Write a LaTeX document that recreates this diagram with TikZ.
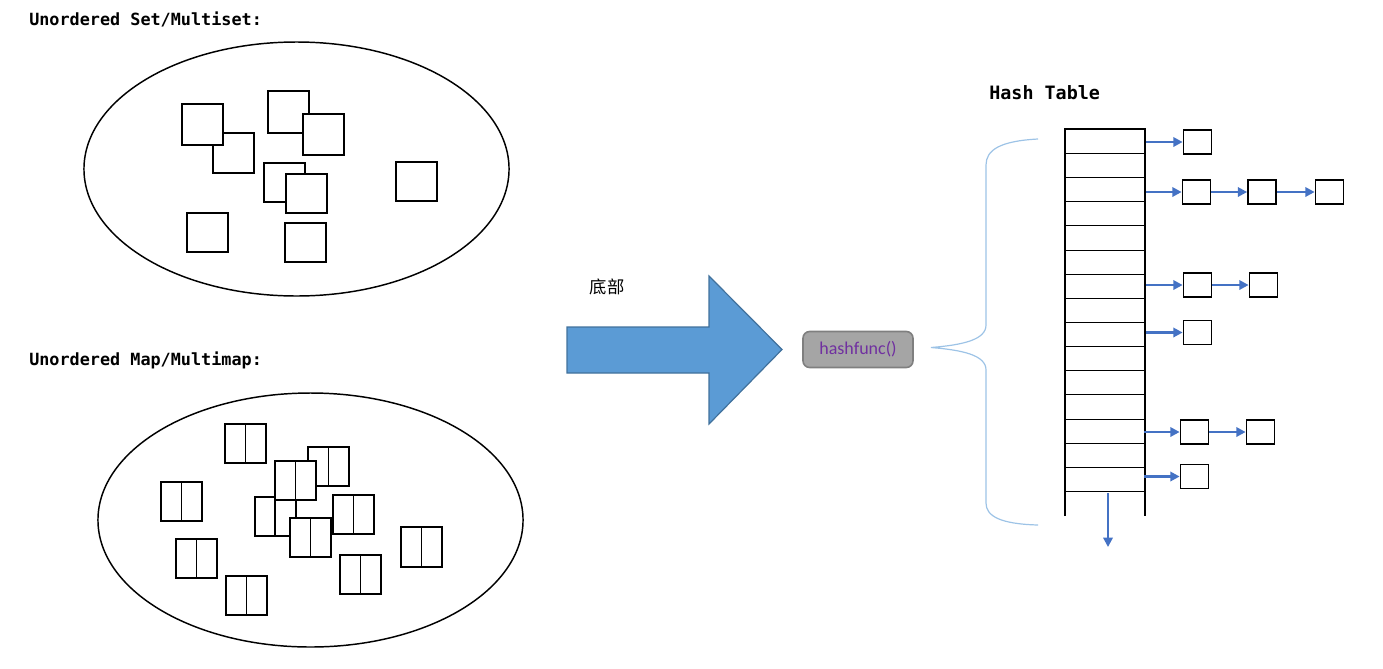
\documentclass[tikz,border=0pt]{standalone}
\usepackage{fontspec}
\usepackage{xcolor}
\usepackage{tikz}
\usetikzlibrary{arrows.meta}
\newfontfamily\codefont{DejaVu Sans Mono}
\newfontfamily\cjkfont{Noto Sans CJK SC}
\newfontfamily\labelfont{Carlito}
\definecolor{bigfill}{HTML}{5B9BD5}
\definecolor{bigedge}{HTML}{41719C}
\definecolor{linkblue}{HTML}{4472C4}
\definecolor{bracecol}{HTML}{9DC3E6}
\definecolor{hashfill}{HTML}{A5A5A5}
\definecolor{hashedge}{HTML}{7F7F7F}
\definecolor{hashtext}{HTML}{7030A0}

\begin{document}
\begin{tikzpicture}[x=0.75pt,y=-0.75pt,
    box/.style={draw, fill=white, line width=1.2pt},
    cell/.style={draw, line width=1.3pt, minimum width=21pt, minimum height=18pt, inner sep=0pt},
    link/.style={draw=linkblue, line width=2.2pt, -{Triangle[length=7pt,width=7pt]}},
    title/.style={font=\codefont\bfseries\fontsize{12.6pt}{15pt}\selectfont, inner sep=0pt, anchor=base west},
    hashbox/.style={draw=hashedge, fill=hashfill, line width=1.2pt, rounded corners=5pt,
      minimum width=82.5pt, minimum height=27pt, text=hashtext,
      font=\labelfont\fontsize{13.5pt}{16pt}\selectfont}]
      \useasboundingbox (0,0) rectangle (1383,668);

      % set
      \node[title] (settitle) at (29,25) {Unordered Set/Multiset:};
      \draw[line width=1.1pt] (296.5,169) ellipse [x radius=159.4pt, y radius=95.25pt];
      \draw[box] (213,133) rectangle (254,173);
      \draw[box] (182,104) rectangle (223,145);
      \draw[box] (268,91) rectangle (309,133);
      \draw[box] (303,114) rectangle (344,155);
      \draw[box] (264,163) rectangle (305,202);
      \draw[box] (286,174) rectangle (327,213);
      \draw[box] (396,162) rectangle (437,201);
      \draw[box] (187,213) rectangle (228,252);
      \draw[box] (285,223) rectangle (326,262);

      % map
      \node[title] (maptitle) at (29,365) {Unordered Map/Multimap:};
      \draw[line width=1.1pt] (310.5,520) ellipse [x radius=159.4pt, y radius=95.25pt];
      \draw[box] (225,424) rectangle (266,463) (245.5,424) -- (245.5,463);
      \draw[box] (308,447) rectangle (349,486) (328.5,447) -- (328.5,486);
      \draw[box] (255,497) rectangle (296,536) (275,497) -- (275,536);
      \draw[box] (275,461) rectangle (316,500) (295.5,461) -- (295.5,500);
      \draw[box] (290,518) rectangle (331,557) (310.5,518) -- (310.5,557);
      \draw[box] (333,495) rectangle (374,534) (353.5,495) -- (353.5,534);
      \draw[box] (161,482) rectangle (202,521) (181.5,482) -- (181.5,521);
      \draw[box] (176,539) rectangle (217,578) (196.5,539) -- (196.5,578);
      \draw[box] (226,576) rectangle (267,615) (246.5,576) -- (246.5,615);
      \draw[box] (340,555) rectangle (381,594) (360.5,555) -- (360.5,594);
      \draw[box] (401,527) rectangle (442,567) (421.5,527) -- (421.5,567);

      % big arrow
      \node[font=\cjkfont\fontsize{13pt}{15pt}\selectfont] (under) at (607,287) {底部};
      \draw[fill=bigfill, draw=bigedge, line width=0.9pt] (567,327) -- (709,327) -- (709,276)
        -- (782,349.5) -- (709,424) -- (709,373) -- (567,373) -- cycle;
      \node[hashbox] (hash) at (858,349.5) {hashfunc()};
      \draw[bracecol, line width=0.9pt] (1038,139) .. controls (1000,141) and (986,150) .. (986,165)
        -- (986,325) .. controls (986,340) and (962,345) .. (931,347.5)
        .. controls (962,350) and (986,355) .. (986,370)
        -- (986,503) .. controls (986,516) and (1000,524) .. (1038,525);

      % table
      \node[title, font=\codefont\bfseries\fontsize{13.8pt}{16pt}\selectfont] (tabletitle) at (989,99) {Hash Table};
      \draw[line width=1.5pt] (1065,516) -- (1065,129) -- (1145,129) -- (1145,516);
      \draw[line width=0.7pt] (1065,153) -- (1145,153);
      \draw[line width=0.7pt] (1065,177) -- (1145,177);
      \draw[line width=0.7pt] (1065,201.5) -- (1145,201.5);
      \draw[line width=0.7pt] (1065,225.5) -- (1145,225.5);
      \draw[line width=0.7pt] (1065,250) -- (1145,250);
      \draw[line width=0.7pt] (1065,274) -- (1145,274);
      \draw[line width=0.7pt] (1065,298) -- (1145,298);
      \draw[line width=0.7pt] (1065,322) -- (1145,322);
      \draw[line width=0.7pt] (1065,346.5) -- (1145,346.5);
      \draw[line width=0.7pt] (1065,370.5) -- (1145,370.5);
      \draw[line width=0.7pt] (1065,394.5) -- (1145,394.5);
      \draw[line width=0.7pt] (1065,419) -- (1145,419);
      \draw[line width=0.7pt] (1065,443) -- (1145,443);
      \draw[line width=0.7pt] (1065,467) -- (1145,467);
      \draw[line width=0.7pt] (1065,491) -- (1145,491);

      % chains
      \node[cell] (n0) at (1197.5,142) {};
      \node[cell] (n2a) at (1196.5,192) {};
      \node[cell] (n2b) at (1262,192) {};
      \node[cell] (n2c) at (1329.5,192) {};
      \node[cell] (n6a) at (1197.5,285) {};
      \node[cell] (n6b) at (1263.5,285) {};
      \node[cell] (n8) at (1197.5,332.5) {};
      \node[cell] (n12a) at (1194.5,432) {};
      \node[cell] (n12b) at (1260.5,432) {};
      \node[cell] (n14) at (1194.5,476.5) {};
      \coordinate (r0) at (1146,142);
      \coordinate (r2) at (1146,192);
      \coordinate (r6) at (1146,285);
      \coordinate (r8) at (1146,332.5);
      \coordinate (r12) at (1144,432);
      \coordinate (r14) at (1144,476.5);
      \draw[link] (r0) -- (n0);
      \draw[link] (r2) -- (n2a);
      \draw[link] (n2a) -- (n2b);
      \draw[link] (n2b) -- (n2c);
      \draw[link] (r6) -- (n6a);
      \draw[link] (n6a) -- (n6b);
      \draw[link] (r8) -- (n8);
      \draw[link] (r12) -- (n12a);
      \draw[link] (n12a) -- (n12b);
      \draw[link] (r14) -- (n14);
      \coordinate (tail) at (1108,493);
      \coordinate (tailend) at (1108,547);
      \draw[link, line width=1.6pt] (tail) -- (tailend);
    \end{tikzpicture}
\end{document}
